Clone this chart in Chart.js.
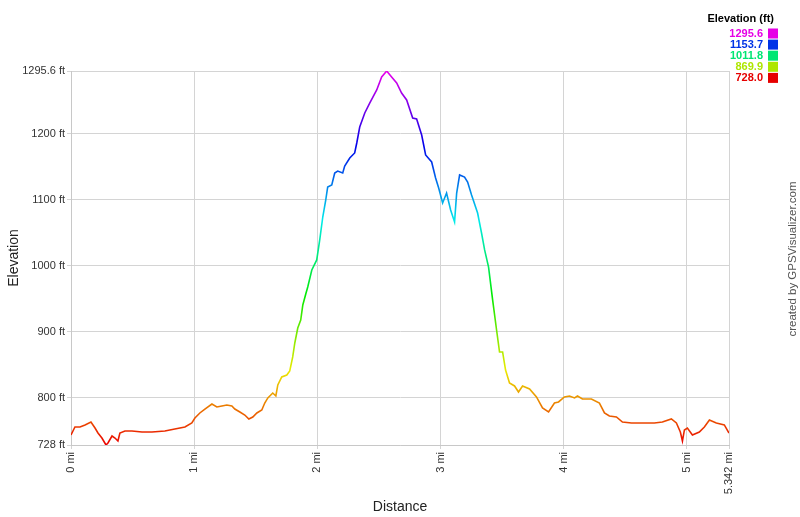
<!DOCTYPE html>
<html>
<head>
<meta charset="utf-8">
<script src="https://cdn.jsdelivr.net/npm/chart.js@4/dist/chart.umd.min.js"></script>
<style>
  html, body { margin: 0; padding: 0; background: #fff; }
  #wrap { width: 800px; height: 517px; position: relative; }
</style>
</head>
<body>
<div id="wrap"><canvas id="elevChart" width="800" height="517"></canvas></div>
<script>
// distance along the track (mi) and elevation (ft)
const distMi = [
  0.000, 0.032, 0.073, 0.114, 0.162, 0.195, 0.219, 0.251, 0.284, 0.300,
  0.333, 0.357, 0.381, 0.397, 0.438, 0.495, 0.576, 0.657, 0.762, 0.843,
  0.925, 0.981, 1.006, 1.046, 1.087, 1.144, 1.184, 1.225, 1.265, 1.306,
  1.330, 1.371, 1.411, 1.444, 1.476, 1.509, 1.549, 1.573, 1.598, 1.638,
  1.663, 1.679, 1.711, 1.752, 1.776, 1.800, 1.817, 1.841, 1.865, 1.882,
  1.906, 1.922, 1.955, 1.995, 2.019, 2.044, 2.068, 2.084, 2.117, 2.141,
  2.165, 2.206, 2.222, 2.263, 2.303, 2.320, 2.344, 2.385, 2.425, 2.482,
  2.522, 2.563, 2.603, 2.644, 2.684, 2.725, 2.774, 2.806, 2.847, 2.879,
  2.928, 2.960, 2.985, 3.017, 3.049, 3.082, 3.114, 3.131, 3.155, 3.195,
  3.220, 3.252, 3.301, 3.333, 3.358, 3.390, 3.423, 3.455, 3.479, 3.504,
  3.528, 3.560, 3.601, 3.633, 3.666, 3.723, 3.779, 3.828, 3.877, 3.925,
  3.958, 4.006, 4.047, 4.088, 4.112, 4.152, 4.225, 4.290, 4.331, 4.371,
  4.428, 4.477, 4.550, 4.615, 4.672, 4.736, 4.801, 4.874, 4.915, 4.947,
  4.964, 4.980, 5.004, 5.045, 5.101, 5.142, 5.183, 5.239, 5.304, 5.342
];
const elevFt = [
  743.2, 755.3, 755.3, 758.4, 762.9, 753.8, 746.2, 738.6, 728.0, 731.1,
  741.7, 738.6, 734.1, 746.2, 749.3, 749.3, 747.7, 747.7, 749.3, 752.3,
  755.3, 761.4, 768.9, 776.6, 782.6, 790.2, 785.7, 787.2, 788.7, 787.2,
  782.6, 778.1, 773.5, 767.5, 770.5, 776.6, 781.1, 791.7, 799.4, 806.9,
  802.4, 819.1, 831.2, 834.2, 840.3, 861.6, 882.8, 905.6, 917.7, 940.5,
  957.2, 967.8, 993.6, 1008.8, 1039.1, 1074.0, 1099.8, 1119.6, 1122.6, 1140.8,
  1143.8, 1140.8, 1151.4, 1163.6, 1171.2, 1186.3, 1210.6, 1231.9, 1247.0, 1266.8,
  1286.5, 1295.6, 1286.5, 1277.4, 1262.2, 1251.6, 1224.3, 1222.8, 1198.5, 1168.1,
  1157.5, 1133.2, 1118.0, 1095.3, 1110.4, 1084.6, 1066.4, 1110.4, 1137.8, 1134.7,
  1127.1, 1107.4, 1080.1, 1049.7, 1024.0, 998.1, 948.1, 902.5, 869.2, 869.2,
  841.8, 822.1, 817.6, 808.4, 817.6, 813.0, 800.9, 784.2, 778.1, 791.7,
  793.3, 800.9, 802.4, 799.4, 802.4, 797.8, 797.8, 791.7, 776.6, 772.0,
  770.5, 762.9, 761.4, 761.4, 761.4, 761.4, 762.9, 767.5, 761.4, 747.7,
  734.1, 750.8, 753.8, 743.2, 747.7, 755.3, 765.9, 761.4, 758.4, 746.2
];

const yTicks = [728, 800, 900, 1000, 1100, 1200, 1295.6];
const xTicks = [0, 1, 2, 3, 4, 5, 5.342];

// legend on the top right
const legendValues = ['1295.6', '1153.7', '1011.8', '869.9', '728.0'];
const legendColors = ['#e600e6', '#0033e6', '#00e673', '#aee600', '#e60000'];

const elevMin = 728;
const elevMax = 1295.6;

function lineGradient(ctx) {
    const chart = ctx.chart;
    if (!chart.chartArea) return '#e60000';
    const y = chart.scales.y;
    const g = chart.ctx.createLinearGradient(0, y.getPixelForValue(elevMin), 0, y.getPixelForValue(elevMax));
    for (let i = 0; i <= 10; i++) {
        g.addColorStop(i / 10, `hsl(${30 * i}, 100%, 46%)`);
    }
    return g;
}

const extras = {
    id: 'extras',
    afterDraw: (chart) => {
        const c = chart.ctx;
        c.save();
        // legend
        c.textBaseline = 'middle';
        c.font = 'bold 11px "Liberation Sans", Arial, sans-serif';
        c.fillStyle = '#000';
        c.textAlign = 'right';
        c.fillText('Elevation (ft)', 774, 19);
        legendValues.forEach((v, i) => {
            const yy = 33.5 + i * 11.1;
            c.fillStyle = legendColors[i];
            c.fillText(v, 763, yy);
            c.fillRect(768, yy - 5, 10, 10);
        });
        // credit
        c.translate(793, 259);
        c.rotate(-Math.PI / 2);
        c.textAlign = 'center';
        c.font = '11.5px "Liberation Sans", Arial, sans-serif';
        c.fillStyle = '#555';
        c.fillText('created by GPSVisualizer.com', 0, 0);
        c.restore();
    }
};

const tickFont = { family: '"Liberation Sans", Arial, sans-serif', size: 11 };
const titleFont = { family: '"Liberation Sans", Arial, sans-serif', size: 14 };

new Chart(document.getElementById('elevChart').getContext('2d'), {
    type: 'line',
    data: {
        datasets: [{
            data: distMi.map((d, i) => ({ x: d, y: elevFt[i] })),
            borderColor: lineGradient,
            borderWidth: 1.6,
            pointRadius: 0,
            tension: 0,
            fill: false
        }]
    },
    options: {
        responsive: false,
        animation: false,
        layout: { padding: { top: 71, right: 71, left: 0, bottom: 0 } },
        plugins: { legend: { display: false }, tooltip: { enabled: false } },
        scales: {
            x: {
                type: 'linear',
                min: 0,
                max: 5.342,
                afterBuildTicks: (axis) => { axis.ticks = xTicks.map(v => ({ value: v })); },
                afterFit: (axis) => { axis.height = 72; },
                ticks: {
                    autoSkip: false,
                    minRotation: 90,
                    maxRotation: 90,
                    padding: 3,
                    color: '#333',
                    font: tickFont,
                    callback: (v) => v + ' mi'
                },
                grid: { color: '#d4d4d4', tickLength: 4, lineWidth: 1 },
                border: { color: '#c8c8c8' },
                title: { display: true, text: 'Distance', color: '#222', font: titleFont, padding: { top: 0, bottom: 1 } }
            },
            y: {
                min: elevMin,
                max: elevMax,
                afterBuildTicks: (axis) => { axis.ticks = yTicks.map(v => ({ value: v })); },
                afterFit: (axis) => { axis.width = 71; },
                ticks: {
                    autoSkip: false,
                    padding: 2,
                    color: '#333',
                    font: tickFont,
                    callback: (v) => v + ' ft'
                },
                grid: { color: '#d4d4d4', tickLength: 4, lineWidth: 1 },
                border: { color: '#c8c8c8' },
                title: { display: true, text: 'Elevation', color: '#222', font: titleFont, padding: { top: 6, bottom: 0 } }
            }
        }
    },
    plugins: [extras]
});
</script>
</body>
</html>
